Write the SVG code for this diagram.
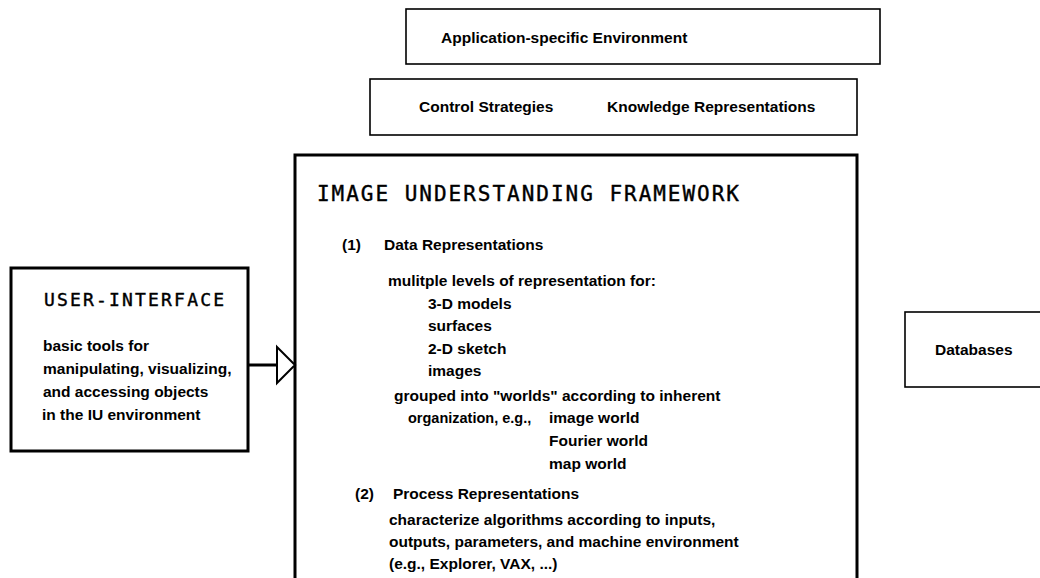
<svg xmlns="http://www.w3.org/2000/svg" width="1040" height="578" viewBox="0 0 1040 578">
<style>
.box{fill:#fff;stroke:#000;stroke-width:1.6}
.thick{fill:#fff;stroke:#000;stroke-width:3}
.t{font-family:"Liberation Sans",Arial,sans-serif;font-weight:bold;font-size:15.5px;fill:#000}
.m{font-family:"DejaVu Sans Mono","Liberation Mono",monospace;font-size:21px;fill:#000;stroke:#000;stroke-width:0.4}
</style>
<rect width="1040" height="578" fill="#fff"/>
<g id="app-env">
<rect class="box" x="406" y="9" width="474" height="55"/>
<text class="t" x="441" y="43">Application-specific Environment</text>
</g>
<g id="control">
<rect class="box" x="370" y="79" width="487" height="56"/>
<text class="t" x="419" y="112">Control Strategies</text>
<text class="t" x="607" y="112">Knowledge Representations</text>
</g>
<g id="framework">
<path class="thick" d="M295,600 V155 H857 V600"/>
<text class="m" x="317" y="201" textLength="422" lengthAdjust="spacing">IMAGE UNDERSTANDING FRAMEWORK</text>
<text class="t" x="342" y="250">(1)</text>
<text class="t" x="384" y="250">Data Representations</text>
<text class="t" x="388" y="286">mulitple levels of representation for:</text>
<text class="t" x="428" y="309">3-D models</text>
<text class="t" x="428" y="331">surfaces</text>
<text class="t" x="428" y="354">2-D sketch</text>
<text class="t" x="428" y="376">images</text>
<text class="t" x="394" y="401">grouped into "worlds" according to inherent</text>
<text class="t" x="408" y="423" style="font-size:14.5px">organization, e.g.,</text>
<text class="t" x="549" y="423">image world</text>
<text class="t" x="549" y="446">Fourier world</text>
<text class="t" x="549" y="469">map world</text>
<text class="t" x="355" y="499">(2)</text>
<text class="t" x="393" y="499">Process Representations</text>
<text class="t" x="389" y="525">characterize algorithms according to inputs,</text>
<text class="t" x="389" y="547">outputs, parameters, and machine environment</text>
<text class="t" x="389" y="569">(e.g., Explorer, VAX, ...)</text>
</g>
<g id="user-interface">
<rect class="thick" x="11" y="268" width="237" height="183"/>
<text class="m" x="44" y="306" textLength="180" lengthAdjust="spacing" style="font-size:18px">USER-INTERFACE</text>
<text class="t" x="43" y="351">basic tools for</text>
<text class="t" x="43" y="374">manipulating, visualizing,</text>
<text class="t" x="43" y="397">and accessing objects</text>
<text class="t" x="42" y="420">in the IU environment</text>
</g>
<g id="databases">
<rect class="box" x="905" y="312" width="150" height="75"/>
<text class="t" x="935" y="355">Databases</text>
</g>
<g id="connectors">
<line x1="248" y1="365" x2="277" y2="365" stroke="#000" stroke-width="3"/>
<polygon points="277,347 295,365 277,383" fill="#fff" stroke="#000" stroke-width="2"/>
</g>
</svg>
